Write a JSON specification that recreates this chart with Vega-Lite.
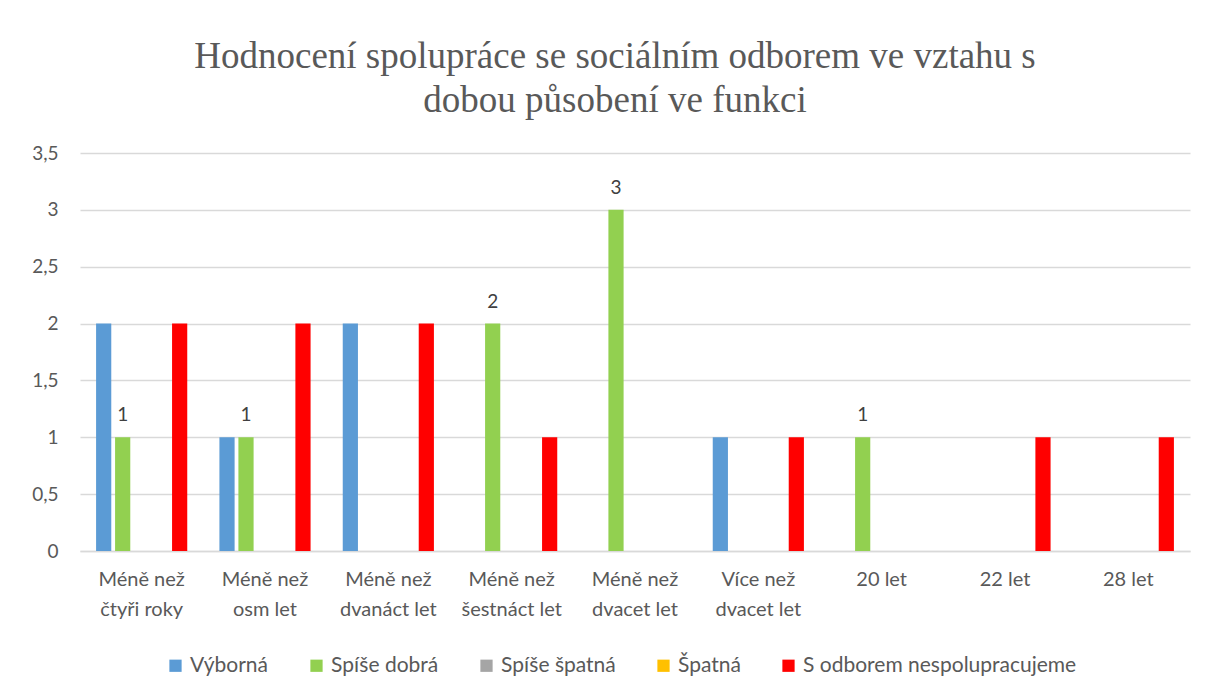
{
  "$schema": "https://vega.github.io/schema/vega-lite/v6.json",
  "width": 1110,
  "height": 398,
  "autosize": {"type": "none"},
  "padding": {"left": 80, "top": 153, "right": 19, "bottom": 146},
  "background": "white",
  "title": {
    "text": ["Hodnocení spolupráce se sociálním odborem ve vztahu s", "dobou působení ve funkci"],
    "font": "Liberation Serif",
    "fontSize": 37,
    "fontWeight": "normal",
    "color": "#595959",
    "lineHeight": 44,
    "anchor": "middle",
    "offset": 24,
    "dx": -20
  },
  "data": {
    "values": [
      {"doba": "Méně než čtyři roky", "hodnoceni": "Výborná", "pocet": 2},
      {"doba": "Méně než čtyři roky", "hodnoceni": "Spíše dobrá", "pocet": 1},
      {"doba": "Méně než čtyři roky", "hodnoceni": "Spíše špatná", "pocet": 0},
      {"doba": "Méně než čtyři roky", "hodnoceni": "Špatná", "pocet": 0},
      {"doba": "Méně než čtyři roky", "hodnoceni": "S odborem nespolupracujeme", "pocet": 2},
      {"doba": "Méně než osm let", "hodnoceni": "Výborná", "pocet": 1},
      {"doba": "Méně než osm let", "hodnoceni": "Spíše dobrá", "pocet": 1},
      {"doba": "Méně než osm let", "hodnoceni": "Spíše špatná", "pocet": 0},
      {"doba": "Méně než osm let", "hodnoceni": "Špatná", "pocet": 0},
      {"doba": "Méně než osm let", "hodnoceni": "S odborem nespolupracujeme", "pocet": 2},
      {"doba": "Méně než dvanáct let", "hodnoceni": "Výborná", "pocet": 2},
      {"doba": "Méně než dvanáct let", "hodnoceni": "Spíše dobrá", "pocet": 0},
      {"doba": "Méně než dvanáct let", "hodnoceni": "Spíše špatná", "pocet": 0},
      {"doba": "Méně než dvanáct let", "hodnoceni": "Špatná", "pocet": 0},
      {"doba": "Méně než dvanáct let", "hodnoceni": "S odborem nespolupracujeme", "pocet": 2},
      {"doba": "Méně než šestnáct let", "hodnoceni": "Výborná", "pocet": 0},
      {"doba": "Méně než šestnáct let", "hodnoceni": "Spíše dobrá", "pocet": 2},
      {"doba": "Méně než šestnáct let", "hodnoceni": "Spíše špatná", "pocet": 0},
      {"doba": "Méně než šestnáct let", "hodnoceni": "Špatná", "pocet": 0},
      {"doba": "Méně než šestnáct let", "hodnoceni": "S odborem nespolupracujeme", "pocet": 1},
      {"doba": "Méně než dvacet let", "hodnoceni": "Výborná", "pocet": 0},
      {"doba": "Méně než dvacet let", "hodnoceni": "Spíše dobrá", "pocet": 3},
      {"doba": "Méně než dvacet let", "hodnoceni": "Spíše špatná", "pocet": 0},
      {"doba": "Méně než dvacet let", "hodnoceni": "Špatná", "pocet": 0},
      {"doba": "Méně než dvacet let", "hodnoceni": "S odborem nespolupracujeme", "pocet": 0},
      {"doba": "Více než dvacet let", "hodnoceni": "Výborná", "pocet": 1},
      {"doba": "Více než dvacet let", "hodnoceni": "Spíše dobrá", "pocet": 0},
      {"doba": "Více než dvacet let", "hodnoceni": "Spíše špatná", "pocet": 0},
      {"doba": "Více než dvacet let", "hodnoceni": "Špatná", "pocet": 0},
      {"doba": "Více než dvacet let", "hodnoceni": "S odborem nespolupracujeme", "pocet": 1},
      {"doba": "20 let", "hodnoceni": "Výborná", "pocet": 0},
      {"doba": "20 let", "hodnoceni": "Spíše dobrá", "pocet": 1},
      {"doba": "20 let", "hodnoceni": "Spíše špatná", "pocet": 0},
      {"doba": "20 let", "hodnoceni": "Špatná", "pocet": 0},
      {"doba": "20 let", "hodnoceni": "S odborem nespolupracujeme", "pocet": 0},
      {"doba": "22 let", "hodnoceni": "Výborná", "pocet": 0},
      {"doba": "22 let", "hodnoceni": "Spíše dobrá", "pocet": 0},
      {"doba": "22 let", "hodnoceni": "Spíše špatná", "pocet": 0},
      {"doba": "22 let", "hodnoceni": "Špatná", "pocet": 0},
      {"doba": "22 let", "hodnoceni": "S odborem nespolupracujeme", "pocet": 1},
      {"doba": "28 let", "hodnoceni": "Výborná", "pocet": 0},
      {"doba": "28 let", "hodnoceni": "Spíše dobrá", "pocet": 0},
      {"doba": "28 let", "hodnoceni": "Spíše špatná", "pocet": 0},
      {"doba": "28 let", "hodnoceni": "Špatná", "pocet": 0},
      {"doba": "28 let", "hodnoceni": "S odborem nespolupracujeme", "pocet": 1}
    ]
  },
  "encoding": {
    "x": {
      "field": "doba",
      "type": "nominal",
      "sort": null,
      "scale": {"paddingInner": 0.23, "paddingOuter": 0.115},
      "axis": {
        "title": null,
        "labelAngle": 0,
        "labelFont": "Lato",
        "labelFontSize": 20,
        "labelColor": "#595959",
        "labelLineHeight": 30,
        "labelPadding": 18,
        "labelBaseline": "top",
        "ticks": false,
        "domainColor": "#D9D9D9",
        "domainWidth": 1.5,
        "labelExpr": "indexof(datum.label, 'než ') > 0 ? [substring(datum.label, 0, indexof(datum.label, 'než ') + 3), substring(datum.label, indexof(datum.label, 'než ') + 4)] : datum.label"
      }
    },
    "xOffset": {
      "field": "hodnoceni",
      "type": "nominal",
      "sort": ["Výborná", "Spíše dobrá", "Spíše špatná", "Špatná", "S odborem nespolupracujeme"],
      "scale": {"paddingInner": 0.2, "paddingOuter": 0.1}
    },
    "y": {
      "field": "pocet",
      "type": "quantitative",
      "scale": {"domain": [0, 3.5]},
      "axis": {
        "title": null,
        "values": [0, 0.5, 1, 1.5, 2, 2.5, 3, 3.5],
        "labelExpr": "replace(toString(datum.value), '.', ',')",
        "labelFont": "Lato",
        "labelFontSize": 19,
        "labelColor": "#595959",
        "labelPadding": 22,
        "ticks": false,
        "domain": false,
        "gridColor": "#D9D9D9",
        "gridWidth": 1.5
      }
    }
  },
  "layer": [
    {
      "mark": {"type": "bar"},
      "encoding": {
        "color": {
          "field": "hodnoceni",
          "type": "nominal",
          "sort": ["Výborná", "Spíše dobrá", "Spíše špatná", "Špatná", "S odborem nespolupracujeme"],
          "scale": {
            "domain": ["Výborná", "Spíše dobrá", "Spíše špatná", "Špatná", "S odborem nespolupracujeme"],
            "range": ["#5B9BD5", "#92D050", "#A5A5A5", "#FFC000", "#FF0000"]
          },
          "legend": {
            "title": null,
            "orient": "none",
            "legendX": 85,
            "legendY": 502,
            "direction": "horizontal",
            "symbolType": "square",
            "symbolSize": 150,
            "symbolStrokeWidth": 0,
            "labelFont": "Lato",
            "labelFontSize": 21,
            "labelColor": "#595959",
            "labelOffset": 4,
            "labelLimit": 0,
            "columnPadding": 37
          }
        }
      }
    },
    {
      "transform": [{"filter": "datum.hodnoceni == 'Spíše dobrá' && datum.pocet > 0"}],
      "mark": {"type": "text", "baseline": "bottom", "dy": -12, "font": "Lato", "fontSize": 19, "color": "#404040"},
      "encoding": {"text": {"field": "pocet", "type": "quantitative"}}
    }
  ],
  "config": {"view": {"stroke": null}}
}
